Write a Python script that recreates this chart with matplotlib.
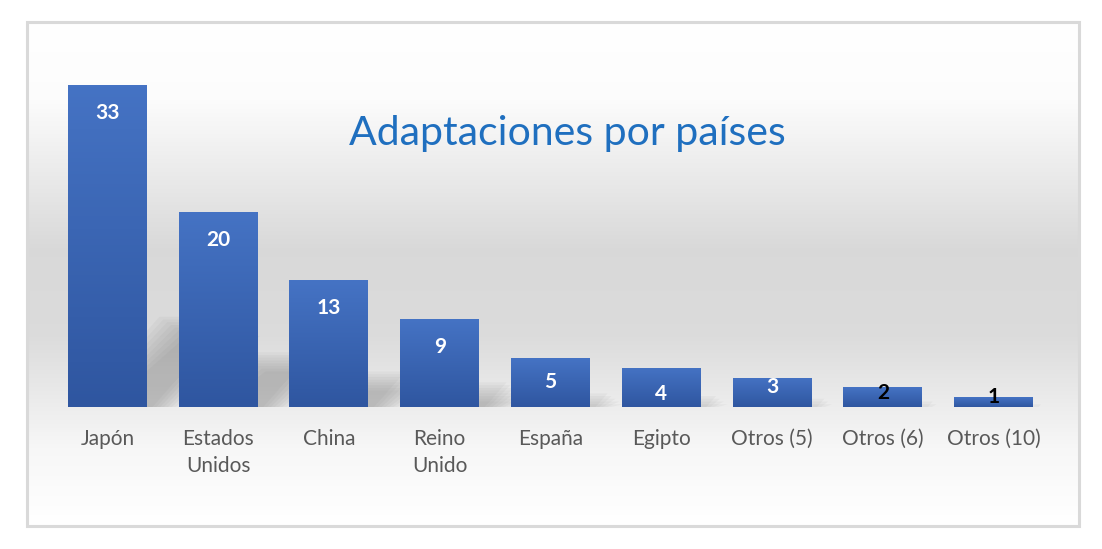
import numpy as np
from matplotlib import pyplot as plt
from matplotlib.patches import Rectangle, Polygon

categories = ["Japón", "Estados\nUnidos", "China", "Reino\nUnido", "España",
              "Egipto", "Otros (5)", "Otros (6)", "Otros (10)"]
values = [33, 20, 13, 9, 5, 4, 3, 2, 1]
title = "Adaptaciones por países"

# label offsets below the bar top, in points, and label colours
label_offsets = [-20, -20, -20, -20, -17, -19, -7, -4, 0]
label_colors = ["white"] * 7 + ["black"] * 2

plt.rcParams["font.family"] = ["Lato", "DejaVu Sans"]

fig = plt.figure(figsize=(11.02, 5.49), dpi=100)
W, H = 1102, 549

# chart area background with vertical grey gradient and border
bg = fig.add_axes([27 / W, (H - 526) / H, (1079 - 27) / W, (526 - 22) / H])
ys = np.linspace(0, 1, 300)
stops_y = [0.0, 0.15, 0.45, 0.62, 0.85, 1.0]
stops_v = [1.0, 0.99, 0.85, 0.86, 0.97, 1.0]
col = np.interp(ys, stops_y, stops_v)
grad = np.repeat(col[:, None], 2, axis=1)
bg.imshow(np.dstack([grad, grad, grad]), aspect="auto", extent=[0, 1, 1, 0])
bg.set_xlim(0, 1)
bg.set_ylim(1, 0)
bg.axis("off")
bg.add_patch(Rectangle((0, 0), 1, 1, transform=bg.transAxes, fill=False,
                       edgecolor="#d9d9d9", linewidth=2.2, clip_on=False))

ax = fig.add_axes([52 / W, (H - 407) / H, (1049 - 52) / W, (407 - 65.4) / H])
ax.patch.set_alpha(0)
x = np.arange(len(values))
width = 0.713

# soft shadows behind bars
for xi, v in zip(x, values):
    for k in range(8):
        s = k * 0.035
        sh = Polygon([(xi - width / 2 + 0.1 + s, 0), (xi + width / 2 + 0.05 + s, 0),
                      (xi + width / 2 + 0.05 + v * 0.022 + s, v * 0.28 - s * 8),
                      (xi - width / 2 + 0.1 + v * 0.022 + s, v * 0.28 - s * 8)],
                     closed=True, facecolor="#6f6f6f", edgecolor="none",
                     alpha=0.06, zorder=1)
        ax.add_patch(sh)

bars = ax.bar(x, values, width=width, color="#4472c4", zorder=2)

# vertical gradient fill on each bar
bar_grad = np.linspace(0, 1, 100)[:, None]
top_c = np.array([69, 115, 196]) / 255
bot_c = np.array([47, 86, 160]) / 255
img = top_c + (bot_c - top_c) * bar_grad[:, :, None]
for b in bars:
    x0, y0 = b.get_x(), b.get_y()
    im = ax.imshow(img, aspect="auto", extent=[x0, x0 + b.get_width(), y0, y0 + b.get_height()],
                   origin="upper", zorder=3)
    im.set_clip_path(b)
ax.set_xlim(-0.5, len(values) - 0.5)
ax.set_ylim(0, 35)

for xi, v, off, c in zip(x, values, label_offsets, label_colors):
    ax.annotate(str(v), (xi, v), xytext=(0, off), textcoords="offset points",
                ha="center", va="center", fontsize=15, fontweight="bold",
                color=c, zorder=4)

ax.set_xticks(x)
ax.set_xticklabels(categories, fontsize=15, color="#595959", linespacing=1.45)
ax.tick_params(axis="x", length=0, pad=16)
ax.set_yticks([])
for s in ax.spines.values():
    s.set_visible(False)

fig.text(567 / W, 1 - 133 / H, title, ha="center", va="center",
         fontsize=29.5, color="#1f6fbf")

plt.savefig("out.png", dpi=100)
